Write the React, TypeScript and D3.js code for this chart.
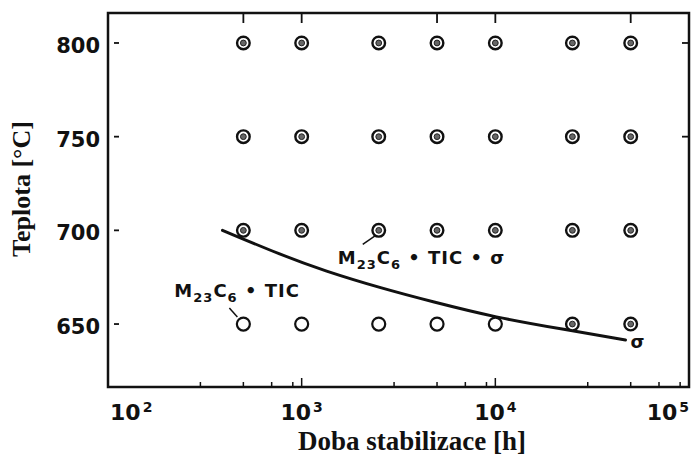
import React, { useEffect, useRef } from 'react';
import * as d3 from 'd3';

// doby stabilizace [h] a teploty [°C]
const stabTimes = [500, 1000, 2500, 5000, 10000, 25000, 50000];
const tempLevels = [800, 750, 700, 650];
// 1 = M23C6 + TiC + sigma (kroužek s tečkou), 0 = M23C6 + TiC (prázdný kroužek)
const sigma800 = [1, 1, 1, 1, 1, 1, 1];
const sigma750 = [1, 1, 1, 1, 1, 1, 1];
const sigma700 = [1, 1, 1, 1, 1, 1, 1];
const sigma650 = [0, 0, 0, 0, 0, 1, 1];

// hranice vzniku sigma fáze
const boundaryTime = [390, 800, 1300, 2600, 4700, 10000, 23000, 47000];
const boundaryTemp = [700, 686.5, 678.5, 669, 662, 653.5, 647, 641.5];

const xDecades = [100, 1000, 10000, 100000];
const xDecadeExp = ['2', '3', '4', '5'];
const xMinorTicks = [300, 500, 700, 900, 3000, 5000, 7000, 9000, 30000, 50000, 70000, 90000];
const xTopTicks = [500, 1000, 5000, 10000, 50000];
const yTicks = [650, 700, 750, 800];

const xTitle = 'Doba stabilizace [h]';
const yTitle = 'Teplota [°C]';

type Part = { t: string; sub?: boolean };
const label1: Part[] = [{ t: 'M' }, { t: '23', sub: true }, { t: 'C' }, { t: '6', sub: true }, { t: ' • TIC' }];
const label2: Part[] = [{ t: 'M' }, { t: '23', sub: true }, { t: 'C' }, { t: '6', sub: true }, { t: ' • TIC • σ' }];

export default function App() {
    const svgRef = useRef<SVGSVGElement>(null);

    useEffect(() => {
        if (!svgRef.current) return;
        const svg = d3.select(svgRef.current);
        svg.selectAll('*').remove();

        const left = 108, right = 689, top = 13, bottom = 387;
        const x = d3.scaleLog().domain([100, 100000]).range([left, right]);
        const y = d3.scaleLinear().domain([616.4, 816]).range([bottom, top]);
        const ink = '#111';
        const sans = 'DejaVu Sans, sans-serif';
        const serif = 'Liberation Serif, Times New Roman, serif';

        // rámeček
        svg.append('rect')
            .attr('x', x(100)).attr('y', top)
            .attr('width', x(100000) - x(100)).attr('height', bottom - top)
            .attr('fill', 'none').attr('stroke', ink).attr('stroke-width', 2.5);

        // ticky dole
        svg.selectAll('.minor').data(xMinorTicks).enter().append('line')
            .attr('x1', d => x(d)).attr('x2', d => x(d))
            .attr('y1', bottom).attr('y2', bottom - 5)
            .attr('stroke', ink).attr('stroke-width', 1.5);
        svg.selectAll('.major').data(xDecades.slice(1, 3)).enter().append('line')
            .attr('x1', d => x(d)).attr('x2', d => x(d))
            .attr('y1', bottom).attr('y2', bottom - 9)
            .attr('stroke', ink).attr('stroke-width', 1.5);
        // ticky nahoře
        svg.selectAll('.topt').data(xTopTicks).enter().append('line')
            .attr('x1', d => x(d)).attr('x2', d => x(d))
            .attr('y1', top).attr('y2', top + 10)
            .attr('stroke', ink).attr('stroke-width', 1.8);
        // ticky vlevo a vpravo
        svg.selectAll('.ylt').data(yTicks).enter().append('line')
            .attr('x1', left + 6).attr('x2', left + 11)
            .attr('y1', d => y(d)).attr('y2', d => y(d))
            .attr('stroke', ink).attr('stroke-width', 1.8);
        svg.selectAll('.yrt').data(yTicks.slice(2)).enter().append('line')
            .attr('x1', right - 7).attr('x2', right)
            .attr('y1', d => y(d)).attr('y2', d => y(d))
            .attr('stroke', ink).attr('stroke-width', 1.8);

        // popisky osy y
        svg.selectAll('.ylab').data(yTicks).enter().append('text')
            .attr('x', left - 8).attr('y', d => y(d) + 10)
            .attr('text-anchor', 'end')
            .attr('font-family', sans).attr('font-weight', 'bold').attr('font-size', 21)
            .attr('fill', ink)
            .text(d => d);

        // popisky osy x (10^n)
        xDecades.forEach((d, i) => {
            const anchor = i === 0 ? 'start' : i === xDecades.length - 1 ? 'end' : 'middle';
            const t = svg.append('text')
                .attr('x', i === 0 ? x(d) + 2 : x(d))
                .attr('y', 420)
                .attr('text-anchor', anchor)
                .attr('font-family', sans).attr('font-weight', 'bold').attr('font-size', 22)
                .attr('fill', ink);
            t.append('tspan').text('10');
            t.append('tspan').attr('font-size', 14).attr('dy', -8).attr('dx', 2).text(xDecadeExp[i]);
        });

        // názvy os
        svg.append('text')
            .attr('x', 412).attr('y', 450)
            .attr('text-anchor', 'middle')
            .attr('font-family', serif).attr('font-weight', 'bold').attr('font-size', 27)
            .attr('fill', ink).text(xTitle);
        svg.append('text')
            .attr('transform', 'translate(30,189) rotate(-90)')
            .attr('text-anchor', 'middle')
            .attr('font-family', serif).attr('font-weight', 'bold').attr('font-size', 26)
            .attr('fill', ink).text(yTitle);

        // hranice sigma
        const curvePts = boundaryTime.map((t, i) => [t, boundaryTemp[i]] as [number, number]);
        svg.append('path')
            .datum(curvePts)
            .attr('fill', 'none').attr('stroke', ink).attr('stroke-width', 3)
            .attr('stroke-linecap', 'round')
            .attr('d', d3.line<[number, number]>()
                .curve(d3.curveBasis)
                .x(d => x(d[0])).y(d => y(d[1])));

        // body
        const rows = [sigma800, sigma750, sigma700, sigma650];
        rows.forEach((row, ri) => {
            row.forEach((s, ci) => {
                const cx = x(stabTimes[ci]), cy = y(tempLevels[ri]);
                if (s) {
                    svg.append('circle').attr('cx', cx).attr('cy', cy).attr('r', 6.3)
                        .attr('fill', '#fff').attr('stroke', ink).attr('stroke-width', 2.4);
                    svg.append('circle').attr('cx', cx).attr('cy', cy).attr('r', 2.9)
                        .attr('fill', '#666').attr('stroke', '#222').attr('stroke-width', 1);
                } else {
                    svg.append('circle').attr('cx', cx).attr('cy', cy).attr('r', 6.5)
                        .attr('fill', '#fff').attr('stroke', ink).attr('stroke-width', 2.2);
                }
            });
        });

        // anotace
        const addLabel = (parts: Part[], px: number, py: number) => {
            const t = svg.append('text')
                .attr('x', px).attr('y', py)
                .attr('font-family', sans).attr('font-weight', 'bold').attr('font-size', 18)
                .attr('letter-spacing', 1).attr('fill', ink);
            parts.forEach((p, i) => {
                if (p.sub) {
                    t.append('tspan').attr('font-size', 13).attr('dy', 5).text(p.t);
                } else {
                    t.append('tspan').attr('dy', i === 0 ? 0 : -5).text(p.t);
                }
            });
        };

        const a1x = x(500), a1y = y(650);
        addLabel(label1, a1x - 69, a1y - 27);
        svg.append('line')
            .attr('x1', a1x - 14).attr('y1', a1y - 16).attr('x2', a1x - 6).attr('y2', a1y - 7)
            .attr('stroke', ink).attr('stroke-width', 1.5);

        const a2x = x(2500), a2y = y(700);
        addLabel(label2, a2x - 41, a2y + 34);
        svg.append('line')
            .attr('x1', a2x - 16).attr('y1', a2y + 14).attr('x2', a2x - 3).attr('y2', a2y + 5)
            .attr('stroke', ink).attr('stroke-width', 1.5);

        const last = curvePts[curvePts.length - 1];
        svg.append('text')
            .attr('x', x(last[0]) + 5).attr('y', y(last[1]) + 8)
            .attr('font-family', sans).attr('font-weight', 'bold').attr('font-size', 18)
            .attr('fill', ink).text('σ');
    }, []);

    return (
        <svg ref={svgRef} width={691} height={457}
            style={{ position: 'absolute', left: 0, top: 0, background: '#fff' }} />
    );
}
